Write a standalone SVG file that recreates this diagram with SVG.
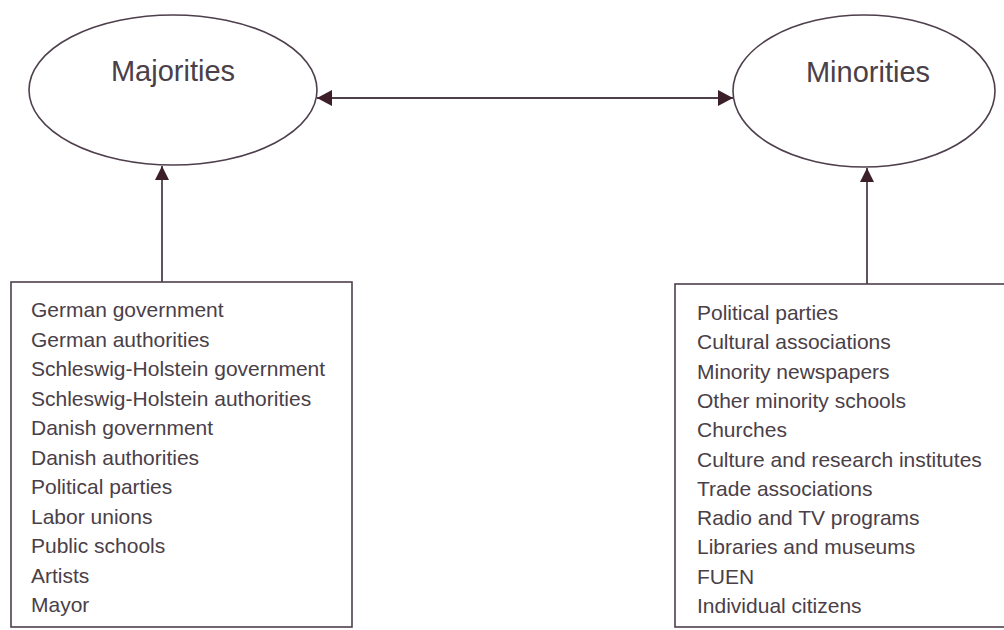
<svg xmlns="http://www.w3.org/2000/svg" width="1004" height="630" viewBox="0 0 1004 630">
  <style>
    .shape { fill: #ffffff; stroke: #4e3f4c; stroke-width: 1.6; }
    .conn { stroke: #4e3f4c; stroke-width: 1.8; fill: none; }
    .title { font-family: "Liberation Sans", Arial, sans-serif; font-size: 29px; fill: #4a4048; text-anchor: middle; }
    .item { font-family: "Liberation Sans", Arial, sans-serif; font-size: 21px; fill: #4a4048; }
  </style>
  <defs>
    <marker id="ah" markerUnits="userSpaceOnUse" markerWidth="16" markerHeight="16" viewBox="0 0 16 16" refX="15" refY="8" orient="auto-start-reverse">
      <path d="M0,0 L15,8 L0,16 z" fill="#3d1f2a"/>
    </marker>
    <marker id="av" markerUnits="userSpaceOnUse" markerWidth="15" markerHeight="14" viewBox="0 0 15 14" refX="14" refY="7" orient="auto">
      <path d="M0,0 L14,7 L0,14 z" fill="#3d1f2a"/>
    </marker>
  </defs>
  <rect width="1004" height="630" fill="#ffffff"/>

  <g id="connectors">
    <line class="conn" x1="317" y1="98" x2="733" y2="98" marker-start="url(#ah)" marker-end="url(#ah)"/>
    <line class="conn" x1="162" y1="282" x2="162" y2="166" marker-end="url(#av)"/>
    <line class="conn" x1="867" y1="284" x2="867" y2="168" marker-end="url(#av)"/>
  </g>

  <g id="majorities">
    <ellipse class="shape" cx="173" cy="90" rx="144" ry="75"/>
    <text class="title" x="173" y="81">Majorities</text>
  </g>

  <g id="minorities">
    <ellipse class="shape" cx="864" cy="91" rx="131" ry="76"/>
    <text class="title" x="868" y="82">Minorities</text>
  </g>

  <g id="majority-actors">
    <rect class="shape" x="11" y="282" width="341" height="345"/>
    <text class="item" x="31" y="317">German government</text>
    <text class="item" x="31" y="346.5">German authorities</text>
    <text class="item" x="31" y="376">Schleswig-Holstein government</text>
    <text class="item" x="31" y="405.5">Schleswig-Holstein authorities</text>
    <text class="item" x="31" y="435">Danish government</text>
    <text class="item" x="31" y="464.5">Danish authorities</text>
    <text class="item" x="31" y="494">Political parties</text>
    <text class="item" x="31" y="523.5">Labor unions</text>
    <text class="item" x="31" y="553">Public schools</text>
    <text class="item" x="31" y="582.5">Artists</text>
    <text class="item" x="31" y="612">Mayor</text>
  </g>

  <g id="minority-actors">
    <rect class="shape" x="675" y="284" width="340" height="343"/>
    <text class="item" x="697" y="320">Political parties</text>
    <text class="item" x="697" y="349.3">Cultural associations</text>
    <text class="item" x="697" y="378.6">Minority newspapers</text>
    <text class="item" x="697" y="407.9">Other minority schools</text>
    <text class="item" x="697" y="437.2">Churches</text>
    <text class="item" x="697" y="466.5">Culture and research institutes</text>
    <text class="item" x="697" y="495.8">Trade associations</text>
    <text class="item" x="697" y="525.1">Radio and TV programs</text>
    <text class="item" x="697" y="554.4">Libraries and museums</text>
    <text class="item" x="697" y="583.7">FUEN</text>
    <text class="item" x="697" y="613">Individual citizens</text>
  </g>
</svg>
